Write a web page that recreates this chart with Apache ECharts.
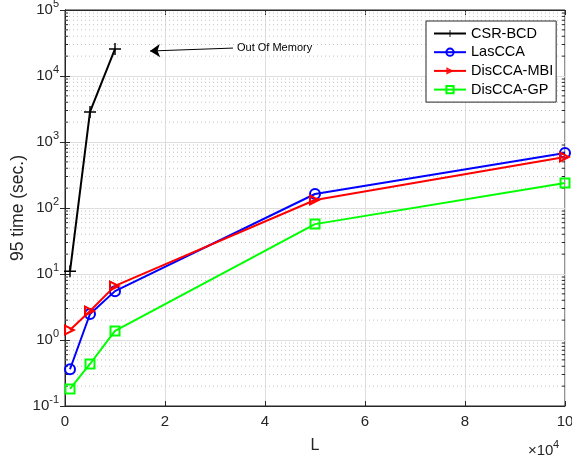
<!DOCTYPE html>
<html>
<head>
<meta charset="utf-8">
<script src="https://cdn.jsdelivr.net/npm/echarts@6/dist/echarts.min.js"></script>
<style>
html, body { margin: 0; padding: 0; background: #fff; }
#main { width: 572px; height: 460px; }
</style>
</head>
<body>
<div id="main"></div>
<script>
// data
var L = [1000, 5000, 10000, 50000, 100000];
var csrBcd = [11, 2850, 25700];          // stops at 1e4: out of memory
var lasCca = [0.36, 2.48, 5.5, 163, 681];
var disCcaMbi = [1.42, 2.75, 6.6, 132, 593];
var disCcaGp = [0.181, 0.433, 1.37, 57, 239];
var seriesNames = ['CSR-BCD', 'LasCCA', 'DisCCA-MBI', 'DisCCA-GP'];
var decades = [-1, 0, 1, 2, 3, 4];

var FONT = 'Liberation Sans, Arial, sans-serif';
var AX = '#262626';
var CLEAR = 'rgba(0,0,0,0)';

function pairs(ys) {
	return ys.map(function(y, i) { return [L[i], y]; });
}

// minor grid values 2..9 of every decade
var minorVals = [];
decades.forEach(function(e) {
	for (var k = 2; k <= 9; k++) {
		minorVals.push([0, k * Math.pow(10, e)]);
	}
});

var chart = echarts.init(document.getElementById('main'));

var yLabel = {
	color: AX,
	margin: 6,
	formatter: function(v) {
		var e = Math.round(Math.log10(v));
		return '{b|10}{s|' + e + '}';
	},
	rich: {
		b: { fontSize: 15, fontFamily: FONT, color: AX },
		s: { fontSize: 11, fontFamily: FONT, color: AX, padding: [0, 0, 12, 0] }
	}
};

var plusPath = 'path://M-1,-0.12L-0.12,-0.12L-0.12,-1L0.12,-1L0.12,-0.12L1,-0.12L1,0.12L0.12,0.12L0.12,1L-0.12,1L-0.12,0.12L-1,0.12Z';
// hollow right-pointing triangle (outline drawn as a filled ring)
var triPath = 'path://M0,0L10,5L0,10ZM1.7,2.75L1.7,7.25L6.2,5Z';

var option = {
	animation: false,
	backgroundColor: '#fff',
	grid: { left: 65, right: 7, top: 10, bottom: 54, show: true, borderColor: AX, borderWidth: 1,
		outerBoundsMode: 'none', containLabel: false },
	legend: {
		orient: 'vertical',
		left: 426,
		top: 21,
		padding: [5, 3, 5, 7],
		itemWidth: 32,
		itemHeight: 9,
		itemGap: 3.7,
		backgroundColor: '#fff',
		borderColor: AX,
		borderWidth: 1,
		borderRadius: 0,
		data: [
			{ name: seriesNames[0] },
			{ name: seriesNames[1], itemStyle: { color: CLEAR } },
			{ name: seriesNames[2] },
			{ name: seriesNames[3], itemStyle: { color: CLEAR } }
		],
		textStyle: { fontSize: 14.5, fontFamily: FONT, color: '#000' }
	},
	xAxis: [{
		type: 'value',
		min: 0,
		max: 100000,
		interval: 20000,
		name: 'L',
		nameLocation: 'middle',
		nameGap: 32,
		nameMoveOverlap: false,
		nameTextStyle: { fontSize: 16, fontFamily: FONT, color: AX },
		axisLine: { lineStyle: { color: AX } },
		axisTick: { inside: true, length: 5, lineStyle: { color: AX } },
		axisLabel: { color: AX, fontSize: 15, fontFamily: FONT, margin: 8,
			formatter: function(v) { return v / 10000; } },
		splitLine: { show: true, lineStyle: { color: '#dedede', width: 1 } }
	}, {
		type: 'value',
		position: 'top',
		min: 0,
		max: 100000,
		interval: 20000,
		axisLine: { show: true, lineStyle: { color: AX } },
		axisTick: { inside: true, length: 5, lineStyle: { color: AX } },
		axisLabel: { show: false },
		splitLine: { show: false }
	}],
	yAxis: [{
		type: 'log',
		logBase: 10,
		min: 0.1,
		max: 100000,
		splitNumber: 6,
		name: '95 time (sec.)',
		nameLocation: 'middle',
		nameGap: 38,
		nameMoveOverlap: false,
		nameTextStyle: { fontSize: 17.5, fontFamily: FONT, color: AX },
		axisLine: { show: true, lineStyle: { color: AX } },
		axisTick: { show: true, inside: true, length: 5, lineStyle: { color: AX } },
		axisLabel: yLabel,
		splitLine: { show: true, lineStyle: { color: '#dedede', width: 1 } }
	}, {
		type: 'log',
		logBase: 10,
		position: 'right',
		min: 0.1,
		max: 100000,
		splitNumber: 6,
		axisLine: { show: true, lineStyle: { color: AX } },
		axisTick: { show: true, inside: true, length: 5, lineStyle: { color: AX } },
		axisLabel: { show: false },
		splitLine: { show: false }
	}],
	graphic: [
		{ type: 'text', left: 237, top: 42, z: 100,
			style: { text: 'Out Of Memory', font: '11px ' + FONT, fill: '#000' } },
		{ type: 'text', left: 528, top: 443, z: 100,
			style: { text: '\u00d710', font: '15px ' + FONT, fill: AX } },
		{ type: 'text', left: 553, top: 439, z: 100,
			style: { text: '4', font: '11px ' + FONT, fill: AX } }
	],
	series: [{
		// minor dotted grid + minor ticks on both y sides
		type: 'custom',
		silent: true,
		z: 1,
		data: minorVals,
		renderItem: function(params, api) {
			var v = api.value(1);
			var p = api.coord([0, v]);
			var q = api.coord([100000, v]);
			return {
				type: 'group',
				children: [{
					type: 'line',
					shape: { x1: p[0], y1: p[1], x2: q[0], y2: q[1] },
					style: { stroke: '#c4c4c4', lineWidth: 1, lineDash: [1, 3] }
				}, {
					type: 'line',
					shape: { x1: p[0], y1: p[1], x2: p[0] + 3, y2: p[1] },
					style: { stroke: AX, lineWidth: 1 }
				}, {
					type: 'line',
					shape: { x1: q[0] - 3, y1: q[1], x2: q[0], y2: q[1] },
					style: { stroke: AX, lineWidth: 1 }
				}]
			};
		}
	}, {
		name: 'CSR-BCD',
		type: 'line',
		z: 5,
		data: pairs(csrBcd),
		color: '#000',
		symbol: plusPath,
		symbolSize: 12,
		lineStyle: { color: '#000', width: 2 },
		itemStyle: { color: '#000' },
		markLine: {
			silent: true,
			symbol: ['none', 'arrow'],
			symbolSize: 10,
			label: { show: false },
			lineStyle: { color: '#000', width: 1, type: 'solid' },
			data: [[{ coord: [33600, 26500] }, { coord: [17000, 23900] }]]
		}
	}, {
		name: 'LasCCA',
		type: 'line',
		z: 6,
		data: pairs(lasCca),
		color: '#00f',
		symbol: 'circle',
		symbolSize: 10,
		lineStyle: { color: '#00f', width: 2 },
		itemStyle: { color: CLEAR, borderColor: '#00f', borderWidth: 2 }
	}, {
		name: 'DisCCA-MBI',
		type: 'line',
		z: 7,
		data: pairs(disCcaMbi),
		color: '#f00',
		symbol: triPath,
		symbolSize: 12,
		lineStyle: { color: '#f00', width: 2 },
		itemStyle: { color: '#f00', borderWidth: 0 }
	}, {
		name: 'DisCCA-GP',
		type: 'line',
		z: 8,
		data: pairs(disCcaGp),
		color: '#0f0',
		symbol: 'rect',
		symbolSize: 9,
		lineStyle: { color: '#0f0', width: 2 },
		itemStyle: { color: CLEAR, borderColor: '#0f0', borderWidth: 2 }
	}]
};

chart.setOption(option);
</script>
</body>
</html>
